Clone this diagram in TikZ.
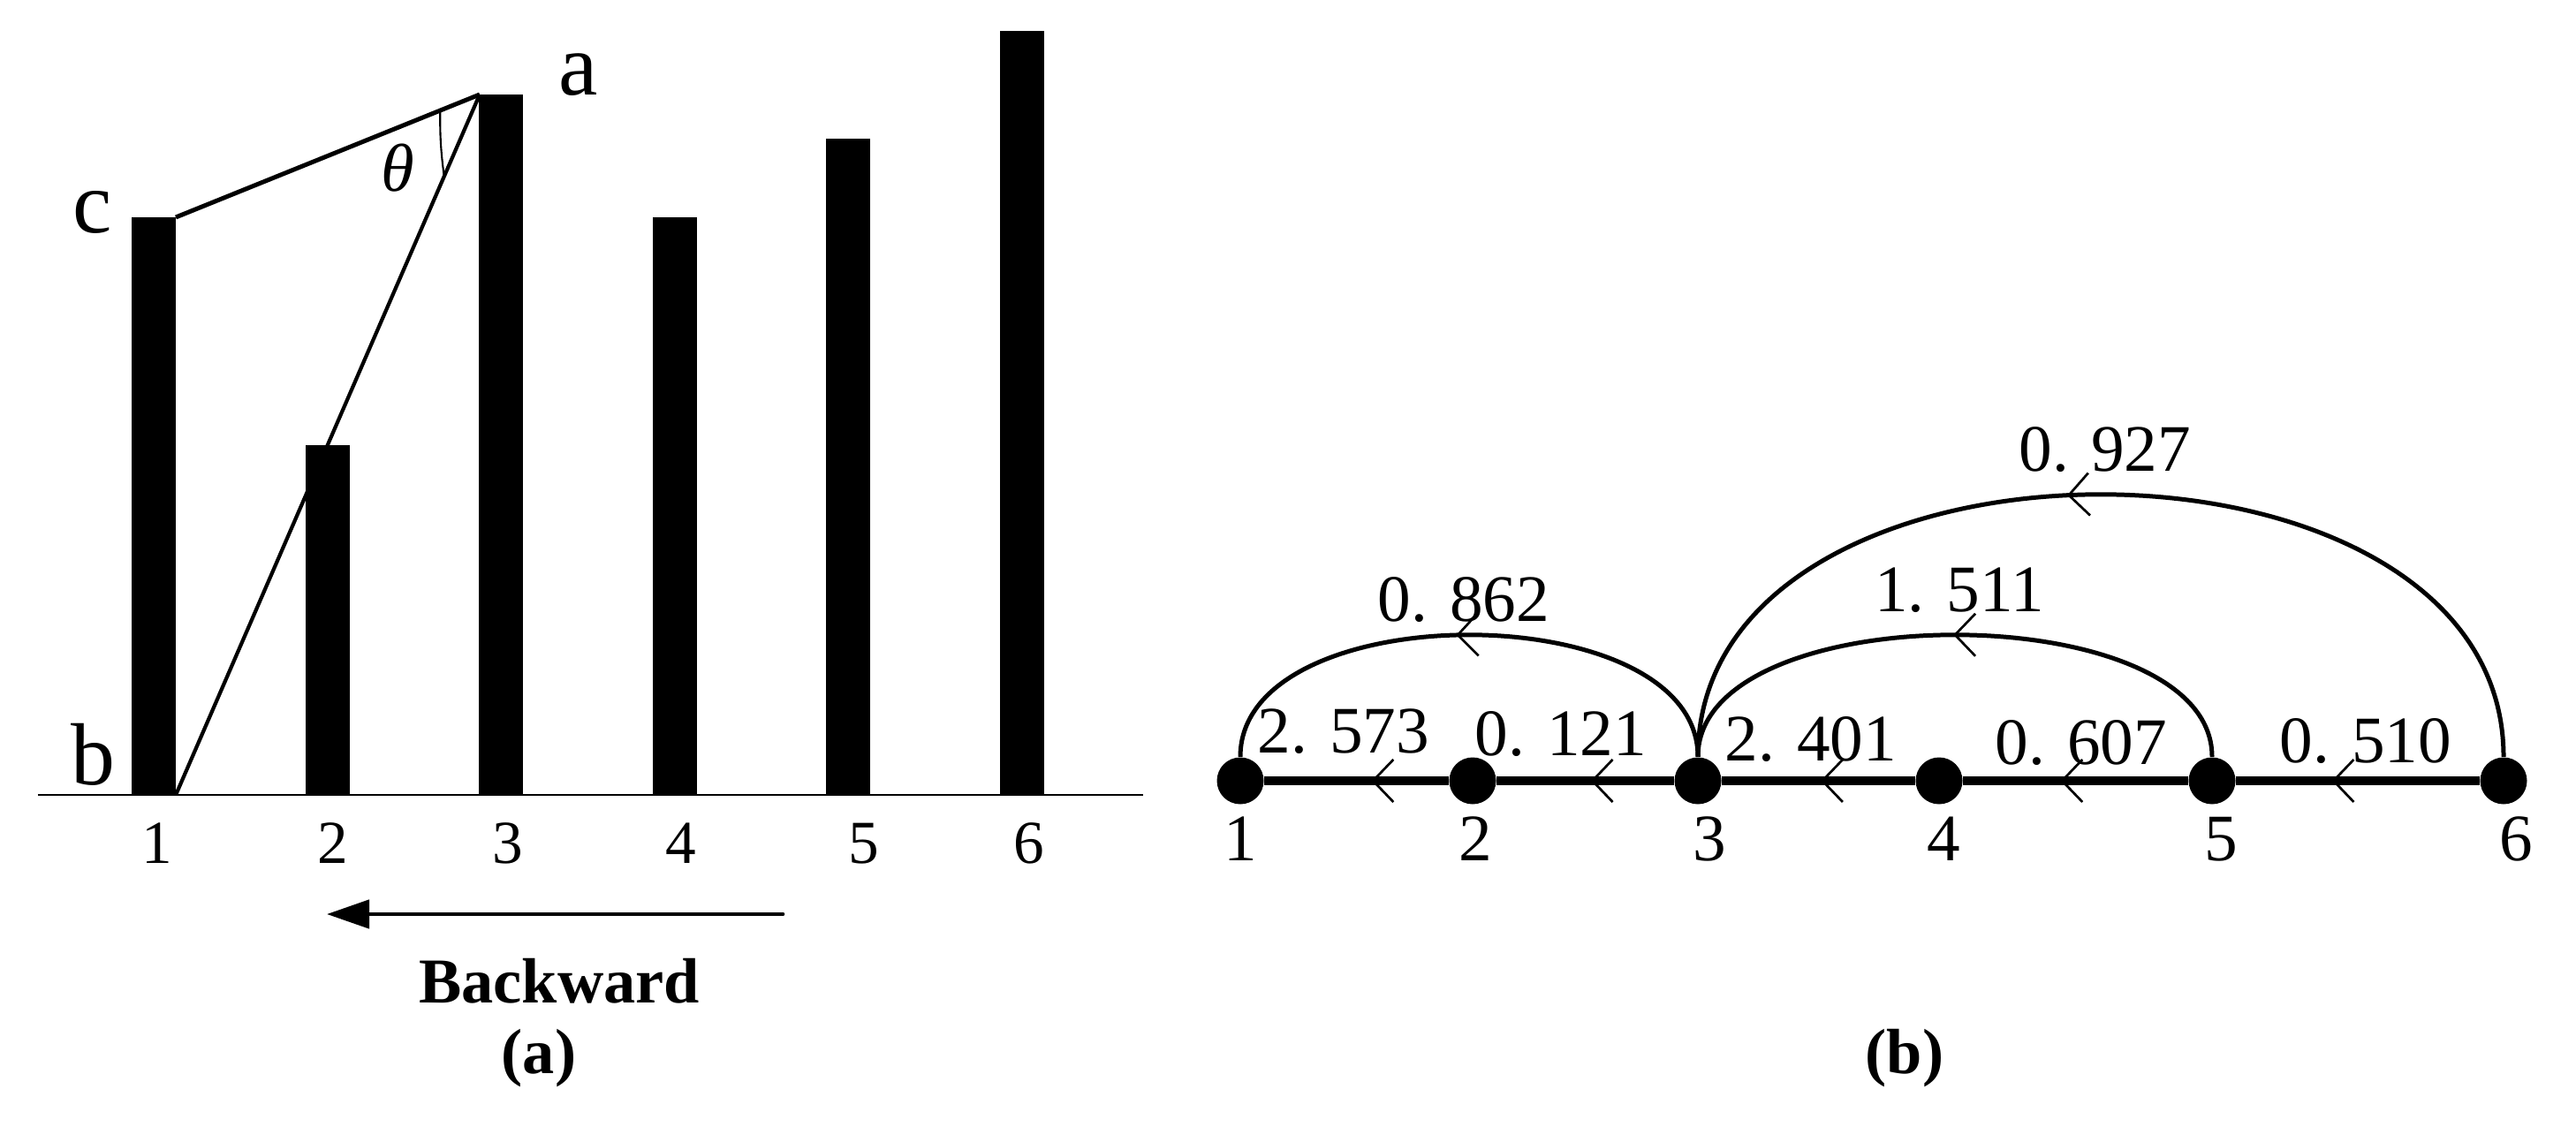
\documentclass[tikz,border=0pt]{standalone}
\usepackage{fontspec}
\setmainfont{Liberation Serif}
\usetikzlibrary{arrows.meta,calc,decorations.markings}
\begin{document}
\begin{tikzpicture}[>={Triangle[length=0.48cm,width=0.32cm]},
        vertex/.style={circle,fill,inner sep=0pt,minimum size=0.53cm},
        barlab/.style={inner sep=0pt,font=\fontsize{19.7}{21}\selectfont},
        wlab/.style={inner sep=0pt,font=\fontsize{21.4}{23}\selectfont},
        letlab/.style={inner sep=0pt,font=\fontsize{28.4}{30}\selectfont},
        caplab/.style={inner sep=0pt,anchor=base,font=\fontsize{20.6}{22}\selectfont\bfseries},
        chevron/.style={postaction={decorate},decoration={markings,
            mark=at position #1 with {\draw[line width=0.77pt] (0.23,0.24)--(0,0)--(0.23,-0.24);}}}]
    \useasboundingbox (0,0) rectangle (29.16,12.75);
    % (a) bars
    \foreach \i/\h/\lx in {1/10.29/1.78, 2/7.71/3.77, 3/11.68/5.75, 4/10.29/7.71, 5/11.18/9.78, 6/12.40/11.65}{
        \fill ({1.49+1.966*(\i-1)},3.75) rectangle ++(0.5,{\h-3.75});
        \node[barlab] (x\i) at (\lx,3.20) {\i};
    }
    \draw[line width=0.7pt] (0.43,3.75) -- (12.94,3.75);
    \coordinate (a) at (5.43,11.68);
    \coordinate (b) at (1.99,3.75);
    \coordinate (c) at (1.99,10.29);
    \draw[line width=1.42pt] (c) -- (a);
    \draw[line width=1.2pt] (a) -- (b);
    \draw[line width=0.6pt] ($(a)!0.13!(c)$) to[bend right=4] ($(a)!0.117!(b)$);
    \node[letlab] (la) at (6.55,11.90) {a};
    \node[letlab] (lc) at (1.05,10.35) {c};
    \node[letlab] (lb) at (1.05,4.21) {b};
    \node[inner sep=0pt,font=\fontsize{21.8}{23}\selectfont] (th) at (4.50,10.85) {\textit{θ}};
    \coordinate (bw1) at (8.86,2.40);
    \coordinate (bw2) at (3.70,2.40);
    \draw[->,line width=1.33pt,line cap=round] (bw1) -- (bw2);
    \node[caplab] (bw) at (6.33,1.40) {Backward};
    \node[caplab] (capa) at (6.10,0.60) {(a)};
    % (b) graph
    \foreach \n/\x/\lx in {1/14.04/14.04, 2/16.67/16.70, 3/19.22/19.35, 4/21.95/22.00, 5/25.04/25.14, 6/28.34/28.48}{
        \node[vertex] (n\n) at (\x,3.91) {};
        \node[wlab] (l\n) at (\lx,3.25) {\n};
    }
    \draw[line width=2.64pt,chevron=0.59] (n1) -- (n2);
    \draw[line width=2.64pt,chevron=0.54] (n2) -- (n3);
    \draw[line width=2.64pt,chevron=0.52] (n3) -- (n4);
    \draw[line width=2.64pt,chevron=0.44] (n4) -- (n5);
    \draw[line width=2.64pt,chevron=0.40] (n5) -- (n6);
    \draw[line width=1.42pt,chevron=0.48] (n1.north) .. controls +(0,1.84) and +(0,1.84) .. (n3.north);
    \draw[line width=1.42pt,chevron=0.50] (n3.north) .. controls +(0,1.84) and +(0,1.84) .. (n5.north);
    \draw[line width=1.42pt,chevron=0.47] (n3.north) .. controls +(0,3.96) and +(0,3.96) .. (n6.north);
    \node[wlab] (w12) at (15.21,4.47) {2. 573};
    \node[wlab] (w23) at (17.67,4.44) {0. 121};
    \node[wlab] (w34) at (20.50,4.38) {2. 401};
    \node[wlab] (w45) at (23.56,4.34) {0. 607};
    \node[wlab] (w56) at (26.78,4.36) {0. 510};
    \node[wlab] (w13) at (16.57,5.96) {0. 862};
    \node[wlab] (w35) at (22.18,6.07) {1. 511};
    \node[wlab] (w36) at (23.83,7.66) {0. 927};
    \node[caplab] (capb) at (21.56,0.60) {(b)};
\end{tikzpicture}
\end{document}
